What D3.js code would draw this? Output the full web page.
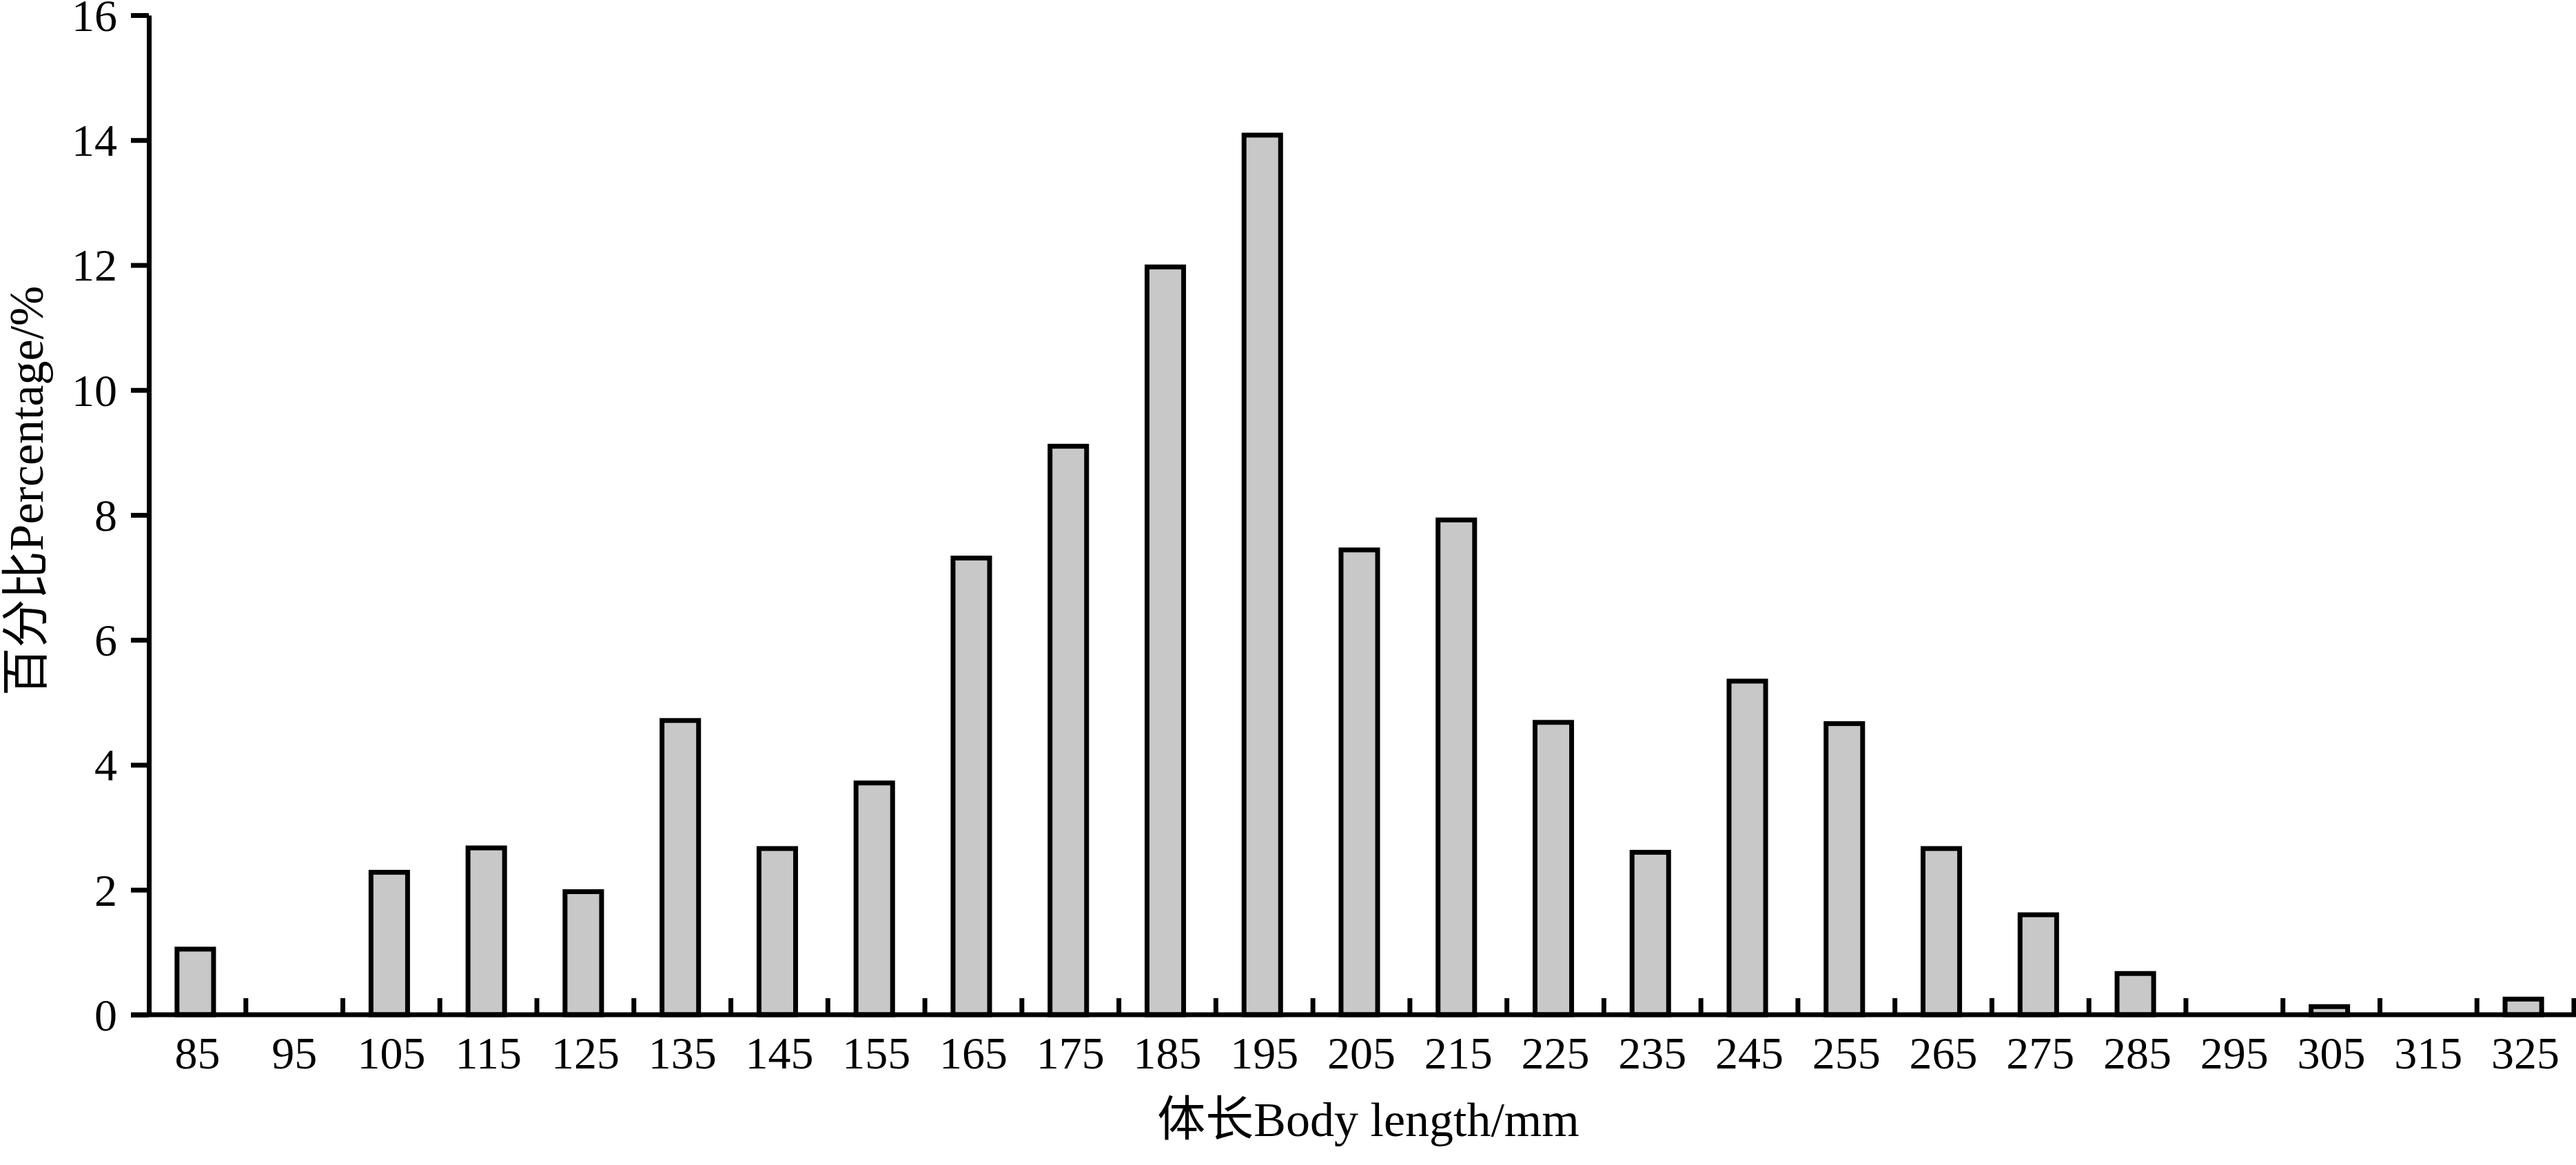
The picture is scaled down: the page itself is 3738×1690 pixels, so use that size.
<!DOCTYPE html>
<html>
<head>
<meta charset="utf-8">
<script src="https://cdn.jsdelivr.net/npm/d3@7"></script>
<style>
  html, body { margin: 0; padding: 0; background: #fff; }
  svg { display: block; }
</style>
</head>
<body>
<svg id="chart" width="3738" height="1690"></svg>
<script>
// ---- data ----
const categories = ["85","95","105","115","125","135","145","155","165","175","185","195","205","215","225","235","245","255","265","275","285","295","305","315","325"];
const percentages = [1.05, 0, 2.28, 2.67, 1.97, 4.71, 2.66, 3.71, 7.31, 9.10, 11.97, 14.08, 7.44, 7.92, 4.68, 2.60, 5.34, 4.66, 2.66, 1.60, 0.66, 0, 0.13, 0, 0.25];
const yTicks = [0, 2, 4, 6, 8, 10, 12, 14, 16];
const xTitle = "体长Body length/mm";
const yTitle = "百分比Percentage/%";

(function () {
  // ---- layout ----
  const W = 3738, H = 1690;
  const pLeft = 216, pRight = 3735, pTop = 22, pBottom = 1472;
  const serif = "'Liberation Serif','Times New Roman','Noto Sans CJK SC',serif";
  const axisW = 7;

  const svg = d3.select("#chart");

  const x = d3.scaleBand().domain(categories).range([pLeft, pRight]).padding(0);
  const y = d3.scaleLinear().domain([0, 16]).range([pBottom, pTop]);

  const data = categories.map((c, i) => ({ c, v: percentages[i] }));
  const barW = x.bandwidth() * 0.377;

  // bars
  svg.append("g").selectAll("rect")
    .data(data.filter(d => d.v > 0))
    .join("rect")
    .attr("x", d => x(d.c) + x.bandwidth() / 2 - barW / 2 - 3)
    .attr("width", barW)
    .attr("y", d => y(d.v))
    .attr("height", d => y(0) - y(d.v))
    .attr("fill", "#c8c8c8")
    .attr("stroke", "#000")
    .attr("stroke-width", 7);

  // x axis tick labels (via d3 axis)
  const xAxis = svg.append("g")
    .attr("transform", `translate(0,${pBottom})`)
    .call(d3.axisBottom(x).tickSize(0).tickPadding(78));
  xAxis.select(".domain").remove();
  xAxis.selectAll("text")
    .attr("font-family", serif)
    .attr("font-size", 66)
    .attr("fill", "#000")
    .attr("dy", 0);

  // x axis boundary ticks (inward)
  const bounds = categories.slice(1).map(c => x(c)).concat([pRight]);
  svg.append("g").selectAll("line")
    .data(bounds)
    .join("line")
    .attr("x1", d => d)
    .attr("x2", d => d)
    .attr("y1", pBottom)
    .attr("y2", pBottom - 24)
    .attr("stroke", "#000")
    .attr("stroke-width", axisW);

  // y axis
  const yAxis = svg.append("g")
    .attr("transform", `translate(${pLeft},0)`)
    .call(d3.axisLeft(y).tickValues(yTicks).tickSize(26).tickSizeOuter(0).tickPadding(20));
  yAxis.select(".domain").attr("stroke", "#000").attr("stroke-width", axisW);
  yAxis.selectAll(".tick line").attr("stroke", "#000").attr("stroke-width", axisW);
  yAxis.selectAll("text")
    .attr("font-family", serif)
    .attr("font-size", 66)
    .attr("fill", "#000")
    .attr("dy", "0.34em");

  // x axis line
  svg.append("line")
    .attr("x1", pLeft - 26).attr("x2", W)
    .attr("y1", pBottom).attr("y2", pBottom)
    .attr("stroke", "#000")
    .attr("stroke-width", axisW);

  // axis titles
  svg.append("text")
    .attr("x", (pLeft + pRight) / 2 + 10)
    .attr("y", 1648)
    .attr("text-anchor", "middle")
    .attr("font-family", serif)
    .attr("font-size", 70)
    .attr("fill", "#000")
    .text(xTitle);

  svg.append("text")
    .attr("transform", `translate(62,712) rotate(-90)`)
    .attr("text-anchor", "middle")
    .attr("font-family", serif)
    .attr("font-size", 70)
    .attr("fill", "#000")
    .text(yTitle);
})();
</script>
</body>
</html>
